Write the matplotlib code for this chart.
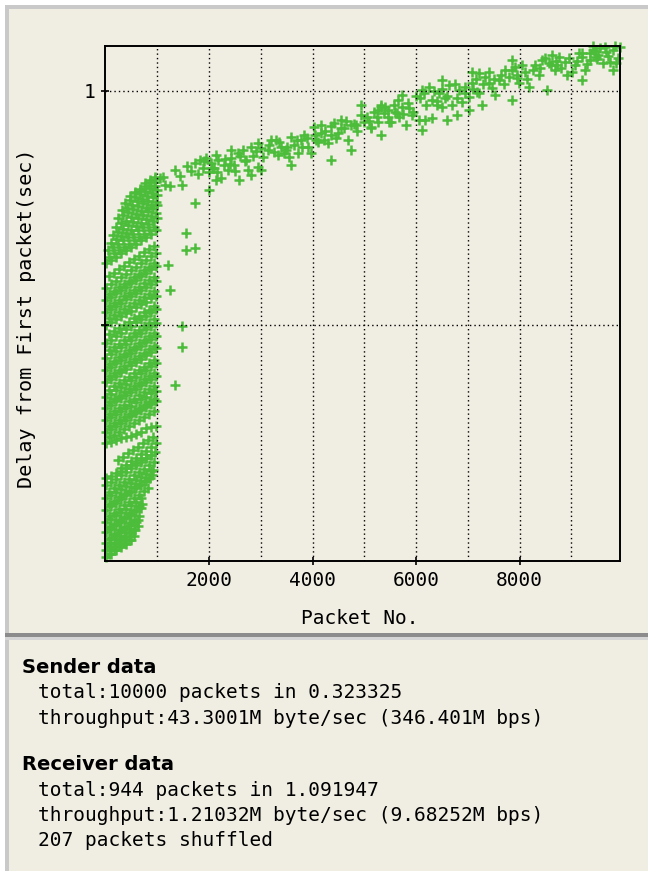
import matplotlib
matplotlib.use("Agg")
import matplotlib.pyplot as plt
from matplotlib.patches import Rectangle

# ---------------- data (packet number, delay in ms) ----------------
burst_packets = [
    [10, 107, 204, 301, 398, 495],
    [14, 110, 200, 305, 395, 490, 570],
    [8, 104, 210, 298, 402, 492, 596, 631],
    [12, 108, 206, 303, 396, 498, 590, 689],
    [10, 105, 202, 300, 400, 494, 594, 686],
    [9, 106, 205, 302, 397, 496, 591, 690, 785, 864],
    [11, 109, 203, 299, 401, 493, 593, 688, 789, 884, 922],
    [10, 107, 204, 301, 398, 495, 592, 689, 787, 884, 961],
    [12, 104, 207, 300, 399, 497, 590, 691, 785, 882],
    [301, 398, 495, 592, 689, 787, 884, 981],
    [10, 107, 204, 301, 398, 495, 592, 689, 787, 884, 981],
    [10, 107, 204, 301, 398, 495, 592, 689, 787, 884, 981],
    [13, 103, 208, 297, 401, 498, 588, 692, 784, 888, 978],
    [10, 107, 204, 301, 398, 495, 592, 689, 787, 884, 981],
    [8, 110, 201, 304, 395, 499, 589, 693, 783, 887, 984],
    [10, 107, 204, 301, 398, 495, 592, 689, 787, 884, 981],
    [12, 105, 206, 299, 400, 493, 595, 687, 790, 881, 983],
    [10, 107, 204, 301, 398, 495, 592, 689, 787, 884, 981],
    [9, 109, 202, 303, 396, 497, 590, 691, 785, 886, 979],
    [10, 107, 204, 301, 398, 495, 592, 689, 787, 884, 981],
    [11, 104, 207, 298, 401, 492, 595, 686, 790, 881, 984],
    [10, 107, 204, 301, 398, 495, 592, 689, 787, 884, 981],
    [13, 110, 201, 304, 395, 498, 589, 692, 784, 887, 978],
    [10, 107, 204, 301, 398, 495, 592, 689, 787, 884, 981],
    [49, 146, 243, 340, 437, 534, 631, 728, 825, 922, 1000],
    [146, 243, 340, 437, 534, 631, 728, 825, 922, 1000],
    [243, 340, 437, 534, 631, 728, 825, 922, 1000],
    [379, 476, 573, 670, 767, 864, 961],
    [573, 670, 767, 864, 961],
    [767, 864, 961],
    # in-between bursts
    [58, 155, 252, 349, 446, 543],
    [58, 155, 252, 349, 446, 543, 620],
    [58, 155, 252, 349, 446, 543, 640],
    [58, 155, 252, 349, 446, 543, 640, 700],
    [58, 155, 252, 349, 446, 543, 640, 737, 820],
    [58, 155, 252, 349, 446, 543, 640, 737, 835, 900],
    [58, 155, 252, 349, 446, 543, 640, 737, 835, 932],
    [243, 340, 437, 534, 631, 728, 825, 922],
    [58, 155, 252, 349, 446, 543, 640, 737, 835, 932],
    [58, 155, 252, 349, 446, 543, 640, 737, 835, 932],
    [58, 155, 252, 349, 446, 543, 640, 737, 835, 932],
    [58, 155, 252, 349, 446, 543, 640, 737, 835, 932],
    [58, 155, 252, 349, 446, 543, 640, 737, 835, 932],
    [58, 155, 252, 349, 446, 543, 640, 737, 835, 932],
    [58, 155, 252, 349, 446, 543, 640, 737, 835, 932],
    [58, 155, 252, 349, 446, 543, 640, 737, 835, 932],
    [58, 155, 252, 349, 446, 543, 640, 737, 835, 932],
    [58, 155, 252, 349, 446, 543, 640, 737, 835, 932],
    [58, 155, 252, 349, 446, 543, 640, 737, 835, 932],
    [58, 155, 252, 349, 446, 543, 640, 737, 835, 932],
    [58, 155, 252, 349, 446, 543, 640, 737, 835, 932],
    [58, 155, 252, 349, 446, 543, 640, 737, 835, 932],
    [100, 197, 294, 391, 488, 585, 682, 779, 876, 973],
    [200, 297, 394, 491, 588, 685, 782, 879, 976],
    [320, 417, 514, 611, 708, 805, 902, 990],
    [480, 577, 674, 771, 868, 965],
]
burst_delays = [
    [4, 12, 19, 26, 33, 41],
    [19, 26, 34, 41, 48, 56, 62],
    [34, 42, 50, 57, 65, 72, 80, 83],
    [58, 65, 73, 80, 87, 94, 102, 109],
    [79, 86, 94, 101, 108, 115, 123, 130],
    [105, 113, 120, 128, 136, 143, 151, 159, 166, 173],
    [130, 136, 143, 149, 156, 162, 168, 175, 181, 188, 190],
    [158, 165, 172, 180, 187, 194, 201, 208, 216, 223, 229],
    [173, 178, 184, 189, 195, 200, 206, 211, 217, 222],
    [194, 202, 209, 217, 224, 232, 240, 248],
    [248, 251, 255, 258, 261, 264, 268, 271, 280, 282, 285],
    [271, 278, 285, 291, 298, 305, 312, 318, 325, 332, 338],
    [297, 303, 310, 316, 322, 328, 335, 341, 347, 354, 360],
    [323, 330, 337, 344, 350, 357, 364, 371, 378, 385, 392],
    [346, 353, 361, 368, 375, 383, 390, 397, 405, 412, 419],
    [378, 385, 392, 400, 407, 414, 421, 428, 436, 443, 450],
    [404, 411, 419, 426, 433, 441, 448, 455, 463, 470, 477],
    [430, 438, 445, 453, 460, 468, 476, 483, 491, 498, 505],
    [462, 469, 476, 484, 491, 498, 506, 513, 520, 528, 535],
    [500, 506, 513, 519, 525, 531, 538, 544, 550, 557, 563],
    [528, 535, 541, 548, 555, 561, 568, 575, 581, 588, 595],
    [553, 560, 568, 575, 582, 590, 597, 604, 612, 619, 626],
    [579, 587, 594, 602, 609, 617, 624, 632, 639, 647, 654],
    [632, 639, 646, 653, 660, 667, 674, 681, 688, 695, 702],
    [660, 667, 674, 681, 688, 695, 702, 709, 716, 723, 729],
    [692, 699, 706, 714, 721, 728, 735, 743, 750, 756],
    [729, 735, 741, 748, 754, 760, 766, 773, 778],
    [761, 767, 773, 780, 786, 792, 798],
    [784, 791, 798, 805, 812],
    [803, 810, 817],
    # in-between bursts
    [12, 19, 27, 34, 41, 49],
    [27, 34, 42, 49, 57, 64, 70],
    [46, 54, 62, 69, 77, 84, 92],
    [68, 76, 83, 91, 98, 105, 113, 118],
    [92, 99, 107, 115, 122, 130, 138, 145, 151],
    [118, 125, 132, 139, 146, 153, 160, 167, 174, 179],
    [144, 151, 158, 165, 172, 179, 186, 193, 200, 207],
    [212, 219, 226, 233, 240, 247, 254, 261],
    [260, 266, 272, 279, 285, 291, 298, 304, 310, 317],
    [284, 291, 297, 304, 310, 317, 323, 330, 336, 343],
    [310, 317, 323, 330, 337, 343, 350, 357, 363, 370],
    [335, 342, 349, 356, 363, 370, 377, 384, 391, 398],
    [362, 369, 376, 383, 390, 397, 404, 411, 418, 425],
    [391, 398, 405, 412, 420, 427, 434, 441, 448, 455],
    [417, 424, 432, 439, 446, 454, 461, 468, 476, 483],
    [446, 453, 460, 468, 475, 483, 490, 497, 505, 512],
    [481, 488, 494, 501, 507, 514, 520, 527, 533, 540],
    [514, 521, 527, 534, 540, 547, 553, 560, 566, 573],
    [540, 547, 554, 561, 568, 575, 582, 589, 596, 603],
    [566, 573, 581, 588, 595, 603, 610, 618, 625, 632],
    [605, 612, 619, 627, 634, 641, 648, 655, 662, 669],
    [646, 653, 660, 667, 674, 681, 688, 695, 702, 709],
    [676, 683, 690, 697, 704, 711, 718, 726, 733, 740],
    [710, 717, 723, 730, 737, 743, 750, 757, 763],
    [745, 751, 757, 764, 770, 776, 782, 788],
    [775, 781, 787, 793, 799, 805],
]

stray_packets = [1738, 1563, 1563, 1738, 1214, 1253, 1486, 1486, 1350, 1058, 1155]
stray_delays = [761, 697, 660, 665, 628, 575, 498, 453, 372, 814, 799]

band_packets = [
    1117, 1350, 1447, 1253, 1486, 1583, 1738, 1835, 1893, 2029, 1991, 2165, 2282,
    2418, 2360, 2224, 2573, 2554, 2651, 1991, 2748, 2806, 2942, 3000, 2942, 3000,
    3136, 3292, 3389, 3447, 3331, 3583, 3641, 3777, 3719, 3913, 3835, 3971, 4030,
    4166, 4224, 4302, 4418, 4496, 4612, 4690, 4748, 4942, 5000, 5137, 5273, 5389,
    5486, 5331, 5195, 5331, 5467, 5583, 5719, 5273, 5525, 5137, 5913, 6049, 6166,
    6302, 5855, 6069, 6108, 6244, 6302, 6438, 6554, 6632, 6690, 6826, 6496, 6884,
    7020, 7020, 6942, 7214, 7331, 7409, 7214, 7467, 7603, 7719, 7797, 7914, 7991,
    8108, 8186, 8302, 8380, 8438, 8574, 8690, 8768, 8885, 9021, 9079, 9215, 9351,
    9409, 9545, 9661, 9797, 9933, 9603, 9739, 9855, 9351, 9156, 1932, 2087, 2476,
    2126, 4360, 4554, 5661, 5797, 7525, 7079, 9467, 9273, 8924, 6787,
    1650, 1780, 1900, 2050, 2150, 2300, 2400, 2500, 2600, 2700, 2850, 2900, 3050,
    3150, 3250, 3350, 3500, 3550, 3700, 3800, 3900, 4050, 4100, 4250, 4350, 4450,
    4550, 4650, 4800, 4850, 5050, 5100, 5250, 5400, 5450, 5600, 5650, 5750, 5850,
    5950, 6000, 6150, 6200, 6350, 6400, 6500, 6600, 6750, 6800, 6950, 7100, 7150,
    7300, 7400, 7500, 7650, 7700, 7850, 7950, 8050, 8150, 8250, 8400, 8500, 8600,
    8700, 8800, 8950, 9100, 9200, 9300, 9450, 9500, 9650, 9700, 9850, 9900,
    2126, 2806, 3583, 4360, 4748, 5331, 6108, 6593, 7273, 7855, 8535, 9215, 9797,
    2418, 3195, 4166, 4942, 5719, 6496, 7079, 7855, 8632, 9409,
    2709, 3486, 4068, 4845, 5622, 6399, 7176, 7953, 8729, 9506,
]
band_delays = [
    816, 831, 818, 797, 799, 840, 846, 853, 836, 846, 827, 853, 842,
    857, 831, 814, 810, 868, 874, 788, 831, 880, 889, 878, 838, 831,
    874, 895, 880, 868, 863, 902, 885, 895, 868, 880, 906, 868, 923,
    910, 895, 889, 932, 910, 921, 895, 927, 949, 934, 923, 960, 953,
    934, 970, 955, 966, 960, 970, 966, 934, 934, 921, 949, 938, 938,
    942, 964, 985, 1002, 1009, 981, 996, 985, 1013, 970, 1002, 966, 977,
    987, 959, 1009, 1039, 1030, 1017, 996, 1007, 1024, 1045, 1030, 1051, 1017,
    1041, 1009, 1056, 1034, 1066, 1060, 1045, 1073, 1062, 1041, 1056, 1073, 1081,
    1088, 1092, 1083, 1088, 1094, 1060, 1062, 1060, 1066, 1081, 857, 836, 842,
    863, 906, 938, 945, 927, 991, 1017, 1073, 1045, 1034, 949,
    830, 822, 850, 835, 826, 855, 845, 828, 860, 850, 862, 872, 858,
    885, 870, 890, 880, 858, 895, 880, 900, 905, 890, 915, 925, 900,
    920, 935, 930, 915, 945, 935, 945, 965, 945, 955, 980, 950, 975,
    955, 990, 995, 970, 1000, 978, 1005, 990, 1015, 985, 995, 1005, 1025,
    1015, 1040, 1025, 1035, 1015, 1045, 1035, 1055, 1025, 1045, 1050, 1070, 1055,
    1065, 1050, 1070, 1065, 1082, 1058, 1085, 1068, 1093, 1075, 1095, 1070,
    810, 821, 842, 853, 874, 906, 917, 938, 970, 981, 1002, 1024, 1045,
    874, 895, 927, 970, 991, 1024, 1041, 1066, 1077, 1096,
    853, 874, 895, 927, 953, 970, 998, 1028, 1056, 1077,
]

x_ticks = [2000, 4000, 6000, 8000]
x_grid_minor = [1000, 3000, 5000, 7000, 9000]
y_ticks = [0.5, 1.0]
y_tick_labels = ["", "1"]

sender_lines = ["total:10000 packets in 0.323325",
                "throughput:43.3001M byte/sec (346.401M bps)"]
receiver_lines = ["total:944 packets in 1.091947",
                  "throughput:1.21032M byte/sec (9.68252M bps)",
                  "207 packets shuffled"]

# ---------------- assemble ----------------
xs, ys = [], []
for pk, dl in zip(burst_packets, burst_delays):
    xs.extend(pk)
    ys.extend(d / 1000.0 for d in dl)
xs.extend(stray_packets)
ys.extend(d / 1000.0 for d in stray_delays)
xs.extend(band_packets)
ys.extend(d / 1000.0 for d in band_delays)

W, H = 648, 871
BG = "#f0ede2"
GREEN = "#4cbd3a"
MONO = "DejaVu Sans Mono"

fig = plt.figure(figsize=(W / 100, H / 100), dpi=100, facecolor="white")

def px_rect(x0, y0, x1, y1, color, z=0):
    fig.patches.append(Rectangle((x0 / W, 1 - y1 / H), (x1 - x0) / W, (y1 - y0) / H,
                                 transform=fig.transFigure, facecolor=color,
                                 edgecolor="none", zorder=z))

# panel backgrounds and borders
px_rect(5, 5, W, H, "#c9c9c9", -5)
px_rect(9, 9, W, H, BG, -4)
px_rect(5, 633, W, 637, "#8c8c8c", -3)
px_rect(5, 637, W, 640, "#d5d5d5", -3)
px_rect(9, 640, W, H, BG, -2)

ax = fig.add_axes([105 / W, 1 - 561 / H, 515 / W, 515 / H])
ax.set_zorder(5)
ax.set_facecolor(BG)
ax.plot(xs, ys, linestyle="none", marker="+", markersize=7.0,
        markeredgewidth=1.8, color=GREEN, clip_on=False, zorder=2)

ax.set_xlim(-10, 9940)
ax.set_ylim(-0.004, 1.096)

ax.set_xticks(x_ticks)
ax.set_xticklabels([str(t) for t in x_ticks], fontfamily=MONO, fontsize=14)
ax.set_xticks(x_grid_minor, minor=True)
ax.set_yticks(y_ticks)
ax.set_yticklabels(y_tick_labels, fontfamily=MONO, fontsize=14)

ax.tick_params(axis="both", which="major", direction="inout", length=6,
               width=1.2, color="black", pad=4)
ax.tick_params(axis="x", which="minor", length=0)
ax.set_axisbelow(False)
ax.grid(True, axis="x", which="both", color="black", linestyle=(0, (1.0, 2.2)),
        linewidth=1.0)
ax.grid(True, axis="y", which="major", color="black", linestyle=(0, (1.0, 2.2)),
        linewidth=1.0)
for s in ax.spines.values():
    s.set_linewidth(1.4)
    s.set_color("black")
    s.set_zorder(3)

fig.text(360 / W, 1 - 618 / H, "Packet No.", fontfamily=MONO, fontsize=14,
         ha="center", va="center")
fig.text(27 / W, 1 - 318 / H, "Delay from First packet(sec)", fontfamily=MONO,
         fontsize=14.5, ha="center", va="center", rotation=90)

# ---------------- text panel ----------------
fig.text(22 / W, 1 - 667 / H, "Sender data", fontfamily="DejaVu Sans",
         fontweight="bold", fontsize=14, ha="left", va="center")
for i, line in enumerate(sender_lines):
    fig.text(38 / W, 1 - (693 + 25 * i) / H, line, fontfamily=MONO, fontsize=14,
             ha="left", va="center")
fig.text(22 / W, 1 - 764 / H, "Receiver data", fontfamily="DejaVu Sans",
         fontweight="bold", fontsize=14, ha="left", va="center")
for i, line in enumerate(receiver_lines):
    fig.text(38 / W, 1 - (790 + 25 * i) / H, line, fontfamily=MONO, fontsize=14,
             ha="left", va="center")

fig.savefig("out.png", dpi=100, facecolor=fig.get_facecolor())
